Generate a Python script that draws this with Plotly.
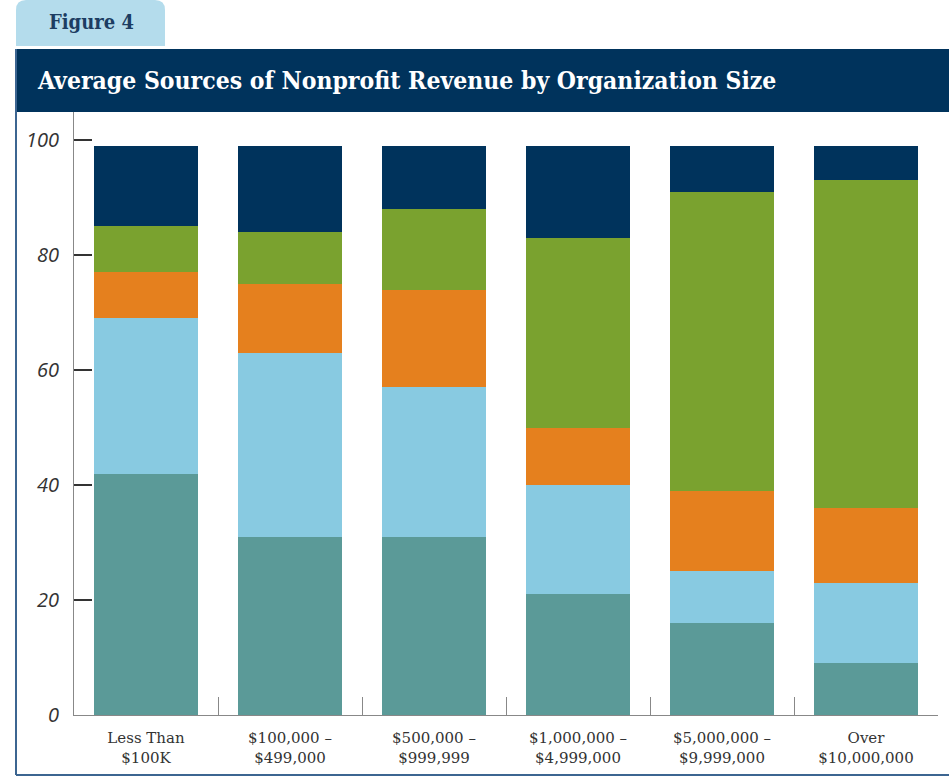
import plotly.graph_objects as go

categories = ["Less Than<br>$100K", "$100,000 –<br>$499,000", "$500,000 –<br>$999,999",
              "$1,000,000 –<br>$4,999,000", "$5,000,000 –<br>$9,999,000", "Over<br>$10,000,000"]

# stacked segments, bottom to top
seg_teal = [42, 31, 31, 21, 16, 9]
seg_lightblue = [27, 32, 26, 19, 9, 14]
seg_orange = [8, 12, 17, 10, 14, 13]
seg_green = [8, 9, 14, 33, 52, 57]
seg_navy = [14, 15, 11, 16, 8, 6]

series = [
    ("Source 1", seg_teal, "#5b9a98"),
    ("Source 2", seg_lightblue, "#88cae1"),
    ("Source 3", seg_orange, "#e5801e"),
    ("Source 4", seg_green, "#7aa22f"),
    ("Source 5", seg_navy, "#00335c"),
]

W, H = 949, 779
L, T = 74, 112
PW, PH = 864, 603
R, B = W - L - PW, H - T - PH


def X(px):  # screen px -> paper
    return (px - L) / PW


def Y(py):  # screen px -> paper
    return (T + PH - py) / PH


fig = go.Figure()
for name, vals, col in series:
    fig.add_trace(go.Bar(x=categories, y=vals, name=name, marker=dict(color=col, line=dict(width=0))))

navy = "#00335c"
shapes = []
# tab with rounded top corners
r = 10
x0, x1, y0, y1 = 16, 165, 0, 46
path = (f"M {X(x0)},{Y(y1)} L {X(x0)},{Y(y0 + r)} Q {X(x0)},{Y(y0)} {X(x0 + r)},{Y(y0)} "
        f"L {X(x1 - r)},{Y(y0)} Q {X(x1)},{Y(y0)} {X(x1)},{Y(y0 + r)} L {X(x1)},{Y(y1)} Z")
shapes.append(dict(type="path", xref="paper", yref="paper", path=path,
                   fillcolor="#b4dcec", line=dict(width=0), layer="below"))
# banner
shapes.append(dict(type="rect", xref="paper", yref="paper", x0=X(16), x1=X(960), y0=Y(112), y1=Y(49),
                   fillcolor=navy, line=dict(width=0), layer="below"))
# frame lines
shapes.append(dict(type="line", xref="paper", yref="paper", x0=X(16), x1=X(16), y0=Y(49), y1=Y(775),
                   line=dict(color="#3c6591", width=2)))
shapes.append(dict(type="line", xref="paper", yref="paper", x0=X(16), x1=X(960), y0=Y(775), y1=Y(775),
                   line=dict(color="#3c6591", width=2)))

annotations = [
    dict(text="Figure 4", xref="paper", yref="paper", x=X(47), y=Y(22), xanchor="left", yanchor="middle",
         showarrow=False, font=dict(family="DejaVu Serif Condensed, DejaVu Serif", size=20, color="#1c3d62",
                                    weight="bold")),
    dict(text="Average Sources of Nonprofit Revenue by Organization Size", xref="paper", yref="paper",
         x=X(35), y=Y(80), xanchor="left", yanchor="middle", showarrow=False,
         font=dict(family="DejaVu Serif Condensed, DejaVu Serif", size=24.5, color="white", weight="bold")),
]

fig.update_layout(
    width=W, height=H,
    margin=dict(l=L, r=R, t=T, b=B),
    barmode="stack", bargap=0.278,
    showlegend=False,
    plot_bgcolor="white", paper_bgcolor="white",
    shapes=shapes, annotations=annotations,
    xaxis=dict(type="category", tickson="boundaries", ticks="inside", ticklen=18, tickwidth=1,
               tickcolor="#888888", showline=True, linecolor="#888888", linewidth=1, showgrid=False,
               ticklabelstandoff=9,
               tickfont=dict(family="DejaVu Serif", size=15, color="#333333")),
    yaxis=dict(range=[0, PH / 5.75], tickvals=[0, 20, 40, 60, 80, 100], ticks="inside",
               ticklen=18, tickwidth=2, tickcolor="#333333", showline=True, linecolor="#888888",
               linewidth=1, showgrid=False, zeroline=False, ticklabelstandoff=10,
               tickfont=dict(family="Open Sans", size=20, color="#333333", style="italic")),
)

fig.write_html("out.html", config={"displayModeBar": False},
               post_script="document.body.style.margin='0';")
